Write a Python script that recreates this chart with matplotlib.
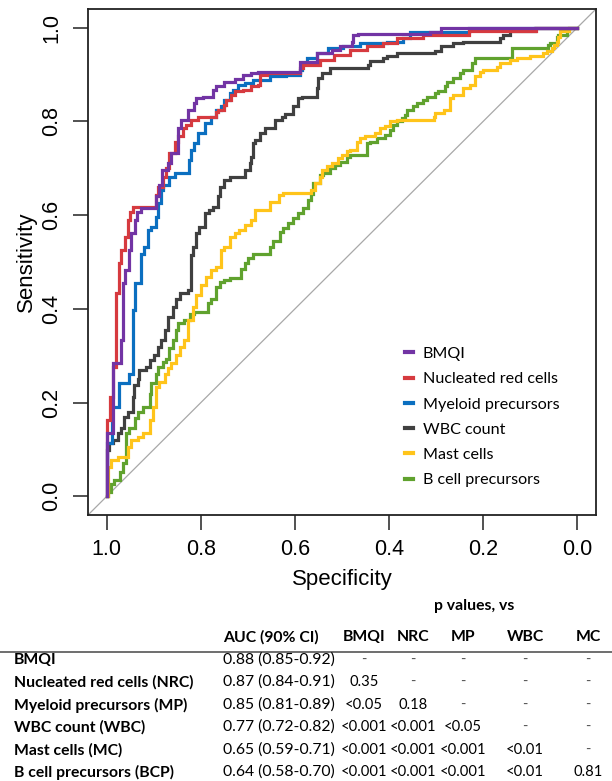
"""ROC curves of marrow markers plus AUC / p value table"""

import numpy as np
import matplotlib
matplotlib.use("Agg")
import matplotlib.pyplot as plt
from matplotlib.lines import Line2D

# 1 - specificity / sensitivity pairs
bmqi_fpr = [0, 0, 0.013, 0.013, 0.03, 0.034, 0.038, 0.048, 0.051, 0.059, 0.065, 0.072, 0.091,
            0.105, 0.112, 0.117, 0.13, 0.137, 0.151, 0.158, 0.172, 0.186, 0.19, 0.204, 0.226,
            0.233, 0.25, 0.272, 0.29, 0.307, 0.321, 0.41, 0.41, 0.446, 0.478, 0.496, 0.521,
            0.524, 0.535, 0.687, 0.71, 0.737, 1.0]
bmqi_sens = [0, 0.135, 0.135, 0.284, 0.284, 0.333, 0.455, 0.483, 0.526, 0.562, 0.59, 0.607, 0.615,
             0.615, 0.64, 0.665, 0.697, 0.711, 0.732, 0.786, 0.803, 0.825, 0.839, 0.85, 0.853,
             0.868, 0.875, 0.885, 0.891, 0.9, 0.903, 0.906, 0.917, 0.927, 0.946, 0.953, 0.96,
             0.97, 0.985, 0.987, 0.99, 1.0, 1.0]

nrc_fpr = [0, 0, 0.006, 0.006, 0.013, 0.013, 0.02, 0.02, 0.025, 0.031, 0.038, 0.045, 0.05, 0.055,
           0.066, 0.105, 0.109, 0.119, 0.126, 0.133, 0.144, 0.151, 0.162, 0.169, 0.179, 0.194,
           0.204, 0.233, 0.236, 0.25, 0.254, 0.265, 0.272, 0.29, 0.307, 0.321, 0.326, 0.34, 0.41,
           0.418, 0.453, 0.482, 0.517, 0.553, 0.588, 0.616, 0.623, 0.673, 0.691, 0.77, 0.775,
           0.913, 0.915, 1.0]
nrc_sens = [0, 0.162, 0.162, 0.212, 0.212, 0.276, 0.276, 0.333, 0.433, 0.497, 0.526, 0.554, 0.59,
            0.607, 0.618, 0.618, 0.643, 0.661, 0.682, 0.7, 0.732, 0.757, 0.768, 0.786, 0.793, 0.803,
            0.81, 0.81, 0.821, 0.825, 0.835, 0.846, 0.857, 0.864, 0.868, 0.875, 0.878, 0.9, 0.903,
            0.914, 0.921, 0.932, 0.942, 0.953, 0.96, 0.967, 0.978, 0.978, 0.985, 0.985, 0.992,
            0.993, 1.0, 1.0]

mp_fpr = [0, 0, 0.01, 0.01, 0.025, 0.03, 0.048, 0.048, 0.055, 0.055, 0.059, 0.066, 0.073, 0.079,
          0.087, 0.094, 0.105, 0.109, 0.116, 0.119, 0.123, 0.133, 0.145, 0.175, 0.179, 0.186,
          0.193, 0.208, 0.222, 0.233, 0.243, 0.25, 0.261, 0.268, 0.279, 0.293, 0.311, 0.347,
          0.382, 0.41, 0.414, 0.425, 0.446, 0.471, 0.503, 0.538, 0.595, 0.63, 0.645, 0.77, 0.8, 1.0]
mp_sens = [0, 0.1, 0.113, 0.162, 0.191, 0.241, 0.241, 0.262, 0.262, 0.333, 0.397, 0.455, 0.455,
           0.518, 0.532, 0.568, 0.575, 0.597, 0.626, 0.654, 0.665, 0.665, 0.682, 0.69, 0.718,
           0.739, 0.754, 0.775, 0.797, 0.81, 0.825, 0.832, 0.846, 0.861, 0.868, 0.878, 0.882,
           0.889, 0.896, 0.9, 0.91, 0.925, 0.935, 0.946, 0.957, 0.96, 0.967, 0.97, 0.978, 0.99,
           1.0, 1.0]

wbc_fpr = [0, 0, 0.004, 0.013, 0.023, 0.03, 0.037, 0.044, 0.055, 0.058, 0.066, 0.069, 0.084,
           0.091, 0.101, 0.109, 0.116, 0.123, 0.13, 0.14, 0.148, 0.155, 0.172, 0.18, 0.183, 0.19,
           0.197, 0.208, 0.218, 0.226, 0.236, 0.24, 0.25, 0.261, 0.293, 0.304, 0.307, 0.31, 0.315,
           0.326, 0.336, 0.357, 0.372, 0.379, 0.396, 0.407, 0.414, 0.446, 0.45, 0.457, 0.475,
           0.482, 0.556, 0.56, 0.588, 0.595, 0.616, 0.645, 0.698, 0.71, 0.737, 0.758, 0.836,
           0.843, 0.857, 0.872, 0.91, 0.912, 1.0]
wbc_sens = [0, 0.06, 0.098, 0.113, 0.12, 0.134, 0.145, 0.169, 0.18, 0.212, 0.237, 0.251, 0.269,
            0.276, 0.291, 0.301, 0.319, 0.333, 0.355, 0.383, 0.404, 0.422, 0.433, 0.44, 0.515,
            0.532, 0.561, 0.575, 0.604, 0.611, 0.618, 0.64, 0.661, 0.675, 0.682, 0.697, 0.711,
            0.725, 0.754, 0.761, 0.775, 0.786, 0.803, 0.81, 0.815, 0.832, 0.85, 0.853, 0.871,
            0.892, 0.903, 0.914, 0.914, 0.921, 0.928, 0.935, 0.939, 0.946, 0.946, 0.95, 0.96,
            0.967, 0.97, 0.978, 0.985, 0.992, 0.994, 1.0, 1.0]

mc_fpr = [0, 0.003, 0.003, 0.008, 0.023, 0.045, 0.052, 0.066, 0.077, 0.091, 0.098, 0.105, 0.112,
          0.123, 0.13, 0.137, 0.148, 0.155, 0.165, 0.172, 0.183, 0.19, 0.2, 0.211, 0.222, 0.233,
          0.243, 0.25, 0.261, 0.272, 0.282, 0.293, 0.307, 0.314, 0.347, 0.365, 0.375, 0.435,
          0.443, 0.453, 0.457, 0.468, 0.478, 0.492, 0.5, 0.51, 0.517, 0.531, 0.538, 0.549, 0.57,
          0.581, 0.591, 0.602, 0.616, 0.623, 0.695, 0.698, 0.716, 0.73, 0.737, 0.758, 0.772,
          0.783, 0.794, 0.8, 0.829, 0.836, 0.857, 0.872, 0.9, 0.928, 0.935, 0.946, 0.95, 0.957,
          0.96, 0.964, 0.967, 0.982, 0.982, 1.0]
mc_sens = [0, 0, 0.034, 0.063, 0.077, 0.084, 0.105, 0.12, 0.127, 0.134, 0.162, 0.191, 0.234,
           0.244, 0.262, 0.273, 0.284, 0.301, 0.319, 0.333, 0.376, 0.404, 0.429, 0.451, 0.469,
           0.483, 0.49, 0.526, 0.532, 0.554, 0.561, 0.568, 0.579, 0.59, 0.611, 0.629, 0.643,
           0.647, 0.654, 0.668, 0.682, 0.697, 0.704, 0.711, 0.722, 0.729, 0.736, 0.739, 0.757,
           0.764, 0.768, 0.775, 0.786, 0.79, 0.8, 0.803, 0.803, 0.81, 0.817, 0.825, 0.85, 0.857,
           0.871, 0.878, 0.896, 0.906, 0.91, 0.917, 0.925, 0.932, 0.935, 0.939, 0.946, 0.95,
           0.957, 0.964, 0.97, 0.981, 0.992, 0.992, 1.0, 1.0]

bcp_fpr = [0, 0.002, 0.009, 0.016, 0.027, 0.034, 0.041, 0.048, 0.059, 0.066, 0.077, 0.091, 0.094,
           0.105, 0.109, 0.119, 0.126, 0.133, 0.14, 0.148, 0.151, 0.165, 0.176, 0.186, 0.215,
           0.222, 0.233, 0.24, 0.25, 0.261, 0.286, 0.293, 0.3, 0.311, 0.321, 0.347, 0.354, 0.368,
           0.375, 0.386, 0.396, 0.407, 0.418, 0.428, 0.435, 0.439, 0.453, 0.46, 0.475, 0.485,
           0.496, 0.51, 0.517, 0.553, 0.56, 0.574, 0.591, 0.602, 0.609, 0.616, 0.627, 0.634,
           0.638, 0.652, 0.659, 0.673, 0.68, 0.698, 0.705, 0.719, 0.723, 0.737, 0.751, 0.758,
           0.776, 0.783, 0.79, 0.861, 0.864, 0.939, 0.943, 0.957, 0.96, 0.978, 0.982, 0.985, 1.0]
bcp_sens = [0, 0, 0.009, 0.027, 0.034, 0.052, 0.07, 0.134, 0.145, 0.166, 0.18, 0.191, 0.219,
            0.241, 0.262, 0.276, 0.287, 0.294, 0.316, 0.333, 0.355, 0.369, 0.376, 0.39, 0.394,
            0.412, 0.422, 0.447, 0.458, 0.462, 0.465, 0.486, 0.497, 0.508, 0.518, 0.518, 0.532,
            0.544, 0.565, 0.572, 0.583, 0.593, 0.604, 0.615, 0.632, 0.645, 0.668, 0.686, 0.69,
            0.701, 0.707, 0.714, 0.725, 0.729, 0.754, 0.757, 0.764, 0.771, 0.782, 0.793, 0.8,
            0.807, 0.814, 0.825, 0.832, 0.84, 0.846, 0.853, 0.861, 0.864, 0.875, 0.885, 0.892,
            0.903, 0.91, 0.925, 0.935, 0.935, 0.957, 0.957, 0.964, 0.967, 0.981, 0.985, 0.992,
            1.0, 1.0]

legend_labels = ["BMQI", "Nucleated red cells", "Myeloid precursors", "WBC count",
                 "Mast cells", "B cell precursors"]
colors = ["#7234A4", "#D63A3F", "#0B6FC0", "#404040", "#FFC41A", "#60A22E"]

ticks = [1.0, 0.8, 0.6, 0.4, 0.2, 0.0]

# table
row_names = ["BMQI", "Nucleated red cells (NRC)", "Myeloid precursors (MP)", "WBC count (WBC)",
             "Mast cells (MC)", "B cell precursors (BCP)"]
auc_ci = ["0.88 (0.85-0.92)", "0.87 (0.84-0.91)", "0.85 (0.81-0.89)", "0.77 (0.72-0.82)",
          "0.65 (0.59-0.71)", "0.64 (0.58-0.70)"]
vs_cols = ["BMQI", "NRC", "MP", "WBC", "MC"]
pvals = [
    ["-", "-", "-", "-", "-"],
    ["0.35", "-", "-", "-", "-"],
    ["<0.05", "0.18", "-", "-", "-"],
    ["<0.001", "<0.001", "<0.05", "-", "-"],
    ["<0.001", "<0.001", "<0.001", "<0.01", "-"],
    ["<0.001", "<0.001", "<0.001", "<0.01", "0.81"],
]

W, H = 612, 781
fig = plt.figure(figsize=(W / 100, H / 100), dpi=100)
ax = fig.add_axes([88 / W, 1 - 515 / H, (596 - 88) / W, (515 - 9) / H])

AXFONT = "Liberation Sans"
TBLFONT = "Lato"
TBLSIZE = 11.3

ax.plot([1.04, -0.04], [-0.04, 1.04], color="#A8A8A8", lw=0.9, zorder=1)

curves = [(bmqi_fpr, bmqi_sens), (nrc_fpr, nrc_sens), (mp_fpr, mp_sens),
          (wbc_fpr, wbc_sens), (mc_fpr, mc_sens), (bcp_fpr, bcp_sens)]
# draw last series first so BMQI ends up on top
for i in reversed(range(len(curves))):
    fpr, sens = curves[i]
    spec = 1 - np.array(fpr)
    ax.plot(spec, sens, color=colors[i], lw=2.3, drawstyle="steps-pre",
            solid_joinstyle="miter", zorder=2 + (6 - i))

ax.set_xlim(1.04, -0.04)
ax.set_ylim(-0.04, 1.04)
ax.set_xticks(ticks)
ax.set_yticks(ticks)
ax.set_xticklabels(["%.1f" % t for t in ticks], fontsize=15.5, family=AXFONT)
ax.set_yticklabels(["%.1f" % t for t in ticks], fontsize=15.5, family=AXFONT,
                   rotation=90, va="center")
ax.tick_params(axis="both", direction="out", length=10.5, width=1.1, color="#222222")
ax.tick_params(axis="x", pad=7)
ax.tick_params(axis="y", pad=8)
for s in ax.spines.values():
    s.set_linewidth(1.3)
    s.set_color("#222222")

ax.set_xlabel("Specificity", fontsize=16, family=AXFONT, labelpad=6)
ax.set_ylabel("Sensitivity", fontsize=16, family=AXFONT, labelpad=3)

leg_handles = [Line2D([0], [0], color=c, lw=3) for c in colors]
ax.legend(leg_handles, legend_labels, loc="center left",
          bbox_to_anchor=((405 - 88) / 508, (515 - 417) / 506),
          frameon=False, prop={"family": TBLFONT, "size": 11.6},
          handlelength=0.5, handletextpad=0.6, labelspacing=0.68,
          borderpad=0, borderaxespad=0)


def fy(y):
    return 1 - y / H


def fx(x):
    return x / W


# table header
fig.text(fx(474), fy(606), "p values, vs", ha="center", va="center",
         family=TBLFONT, weight="bold", fontsize=TBLSIZE)
fig.text(fx(271), fy(637), "AUC (90% CI)", ha="center", va="center",
         family=TBLFONT, weight="bold", fontsize=TBLSIZE)
col_x = [364, 413, 463, 525, 588]
for name, x in zip(vs_cols, col_x):
    fig.text(fx(x), fy(637), name, ha="center", va="center",
             family=TBLFONT, weight="bold", fontsize=TBLSIZE)

fig.add_artist(Line2D([0, 1], [fy(651.5), fy(651.5)], transform=fig.transFigure,
                      color="#555555", lw=1.2))

row_y = [660, 682, 705, 727, 750, 772]
for r, y in enumerate(row_y):
    fig.text(fx(14), fy(y), row_names[r], ha="left", va="center",
             family=TBLFONT, weight="bold", fontsize=TBLSIZE)
    fig.text(fx(223), fy(y), auc_ci[r], ha="left", va="center",
             family=TBLFONT, fontsize=TBLSIZE)
    for c, x in enumerate(col_x):
        v = pvals[r][c]
        fig.text(fx(x), fy(y), v, ha="center", va="center", family=TBLFONT,
                 fontsize=10.6, color="#555555" if v == "-" else "black")

fig.savefig("out.png", dpi=100)
